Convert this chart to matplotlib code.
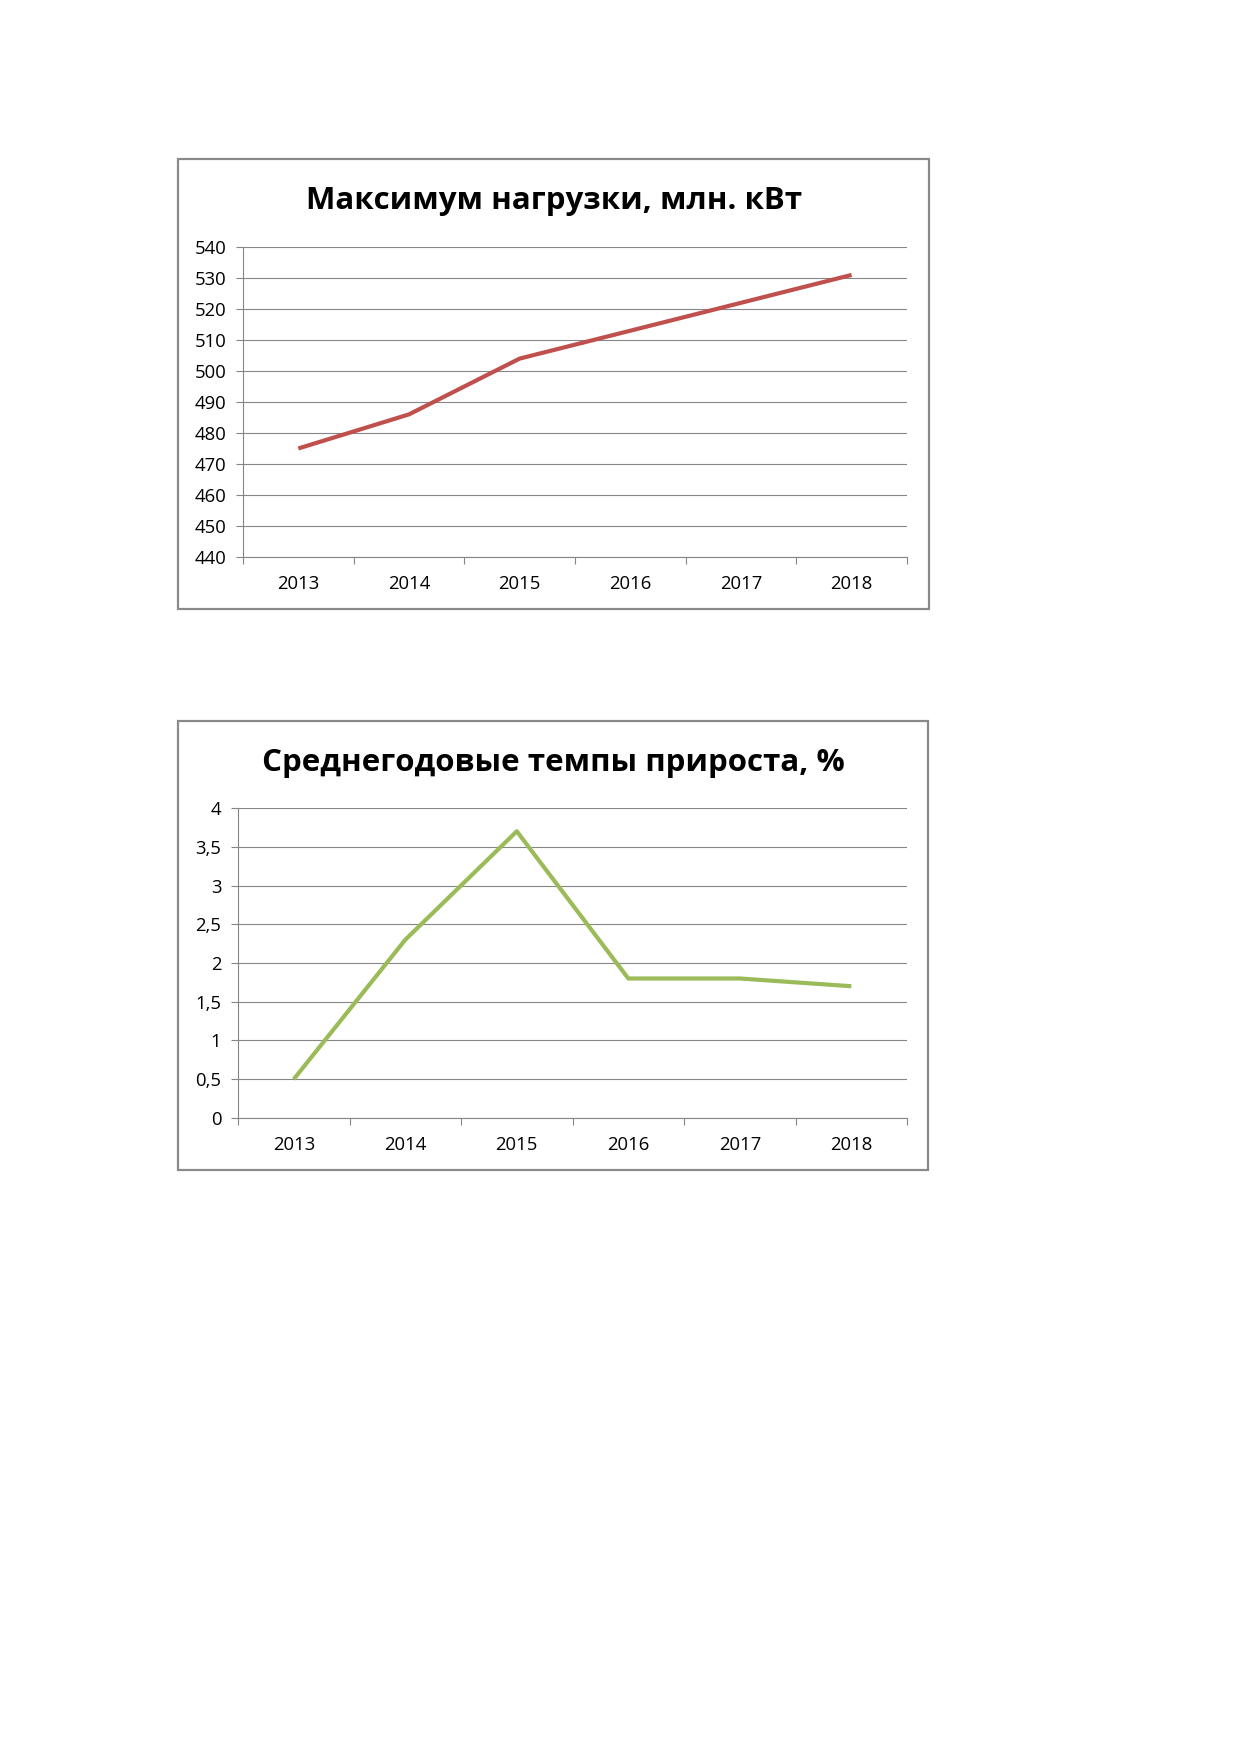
import matplotlib.pyplot as plt
import numpy as np
from matplotlib.patches import Rectangle
from matplotlib.ticker import FuncFormatter

# Data
years = ['2013', '2014', '2015', '2016', '2017', '2018']
max_load = [475, 486, 504, 513, 522, 531]
growth_rate = [0.5, 2.3, 3.7, 1.8, 1.8, 1.7]

title_load = 'Максимум нагрузки, млн. кВт'
title_growth = 'Среднегодовые темпы прироста, %'

plt.rcParams['font.family'] = ['Open Sans', 'DejaVu Sans']

fig = plt.figure(figsize=(12.39, 17.52), dpi=100)

grid_col = '#868686'


def comma_fmt(v, pos):
    s = ('%g' % v)
    return s.replace('.', ',')


def draw_chart(ax_rect, box_rect, title, title_y, values, color, ylim, ystep):
    # outer chart frame
    fig.patches.append(Rectangle(box_rect[:2], box_rect[2], box_rect[3],
                                 transform=fig.transFigure, fill=False,
                                 edgecolor='#8a8a8a', linewidth=1.6))
    fig.text(0.447, title_y, title, ha='center', va='center',
             fontsize=22.5, fontweight='bold', color='black')

    ax = fig.add_axes(ax_rect)
    x = np.arange(len(values))
    ax.plot(x, values, color=color, linewidth=3.0, solid_capstyle='butt')

    ax.set_xlim(-0.5, len(values) - 0.5)
    ax.set_ylim(*ylim)
    ax.set_yticks(np.arange(ylim[0], ylim[1] + ystep / 2, ystep))
    ax.yaxis.set_major_formatter(FuncFormatter(comma_fmt))
    ax.grid(axis='y', color=grid_col, linewidth=0.8)
    ax.set_axisbelow(True)

    ax.set_xticks(np.arange(-0.5, len(values), 1.0))
    ax.set_xticklabels([])
    ax.set_xticks(x, minor=True)
    ax.set_xticklabels(years, minor=True)
    ax.tick_params(axis='x', which='major', length=5, color=grid_col, width=0.8)
    ax.tick_params(axis='x', which='minor', length=0, pad=13, labelsize=13.3)
    ax.tick_params(axis='y', length=5, color=grid_col, width=0.8, pad=7,
                   labelsize=13.3)

    for side in ['top', 'right']:
        ax.spines[side].set_visible(False)
    for side in ['left', 'bottom']:
        ax.spines[side].set_color(grid_col)
        ax.spines[side].set_linewidth(0.8)
    return ax


draw_chart([0.1961, 0.6821, 0.5359, 0.1769],
           [0.1437, 0.6524, 0.6061, 0.2568],
           title_load, 0.885, max_load, '#C0504D', (440, 540), 10)

draw_chart([0.1921, 0.3619, 0.5400, 0.1769],
           [0.1437, 0.3322, 0.6053, 0.2563],
           title_growth, 0.5645, growth_rate, '#9BBB59', (0, 4), 0.5)

fig.savefig('out.png', dpi=100)
